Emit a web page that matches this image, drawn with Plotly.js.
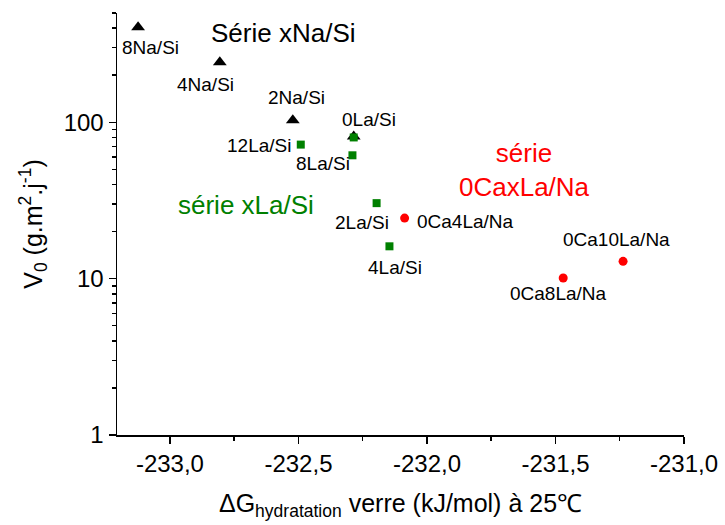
<!DOCTYPE html>
<html>
<head>
<meta charset="utf-8">
<script src="https://cdn.plot.ly/plotly-3.0.1.min.js"></script>
<style>html,body{margin:0;padding:0;background:#fff;}#chart{width:725px;height:525px;}</style>
</head>
<body>
<div id="chart"></div>
<script>
// ---- data ----
var naLabels = ["8Na/Si", "4Na/Si", "2Na/Si", "0La/Si"];
var naX = [-233.124, -232.806, -232.522, -232.285];
var naY = [405, 242, 103, 81];

var laLabels = ["0La/Si", "12La/Si", "8La/Si", "2La/Si", "4La/Si"];
var laX = [-232.285, -232.491, -232.29, -232.196, -232.146];
var laY = [80, 72, 61.5, 30.4, 16.1];

var caLabels = ["0Ca4La/Na", "0Ca10La/Na", "0Ca8La/Na"];
var caX = [-232.087, -231.237, -231.470];
var caY = [24.4, 12.9, 10.1];

var xTickVals = [-233.0, -232.5, -232.0, -231.5, -231.0];
var xTickText = ["-233,0", "-232,5", "-232,0", "-231,5", "-231,0"];
var yTickVals = [1, 10, 100];
var yTickText = ["1", "10", "100"];
var yMinorVals = [2,3,4,5,6,7,8,9,20,30,40,50,60,70,80,90,200,300,400,500];

// label offsets in pixels (style only)
var naShift = [[12,-20],[-14,-22],[4,23],null];
var laShift = [[15,18],[-42,-1],[-29,-8],[-15,-19],[6,-21]];
var caShift = [[61,-3],[-7,22],[-5,-16]];

var FONT = "Liberation Sans, Arial, Helvetica, sans-serif";

var traces = [
  {x: naX, y: naY, mode: "markers", type: "scatter", name: "Série xNa/Si",
   marker: {symbol: "triangle-up", size: 12, color: "#000000"}},
  {x: laX, y: laY, mode: "markers", type: "scatter", name: "série xLa/Si",
   marker: {symbol: "square", size: 8, color: "#008000"}},
  {x: caX, y: caY, mode: "markers", type: "scatter", name: "série 0CaxLa/Na",
   marker: {symbol: "circle", size: 9, color: "#ff0000"}}
];

var annotations = [];
function addLabels(labels, xs, ys, shifts) {
  for (var i = 0; i < labels.length; i++) {
    if (!shifts[i]) continue;
    annotations.push({
      x: xs[i], y: Math.log10(ys[i]), xref: "x", yref: "y",
      xanchor: "center", yanchor: "middle",
      text: labels[i], showarrow: false,
      xshift: shifts[i][0], yshift: shifts[i][1],
      font: {family: FONT, size: 19, color: "#000000"}
    });
  }
}
addLabels(naLabels, naX, naY, naShift);
addLabels(laLabels, laX, laY, laShift);
addLabels(caLabels, caX, caY, caShift);

annotations.push({xref: "paper", yref: "paper", x: 0.293, y: 0.953, xanchor: "center", yanchor: "middle",
  text: "Série xNa/Si", showarrow: false, font: {family: FONT, size: 26, color: "#000000"}});
annotations.push({xref: "paper", yref: "paper", x: 0.2275, y: 0.545, xanchor: "center", yanchor: "middle",
  text: "série xLa/Si", showarrow: false, font: {family: FONT, size: 26, color: "#008000"}});
annotations.push({xref: "paper", yref: "paper", x: 0.718, y: 0.628, xanchor: "center", yanchor: "middle",
  text: "série<br>0CaxLa/Na", showarrow: false, font: {family: FONT, size: 26, color: "#ff0000"}});

var layout = {
  width: 725, height: 525,
  margin: {l: 117, r: 41, t: 13, b: 90},
  paper_bgcolor: "#ffffff", plot_bgcolor: "#ffffff",
  showlegend: false,
  font: {family: FONT, color: "#000000"},
  xaxis: {
    range: [-233.206, -231.0],
    showgrid: false, zeroline: false,
    showline: true, linecolor: "#000000", linewidth: 1.5,
    ticks: "outside", ticklen: 7, tickwidth: 1.5, tickcolor: "#000000",
    tickmode: "array", tickvals: xTickVals, ticktext: xTickText,
    tickfont: {family: FONT, size: 24, color: "#000000"},
    minor: {ticks: "outside", ticklen: 4, tickwidth: 1.5, tickcolor: "#000000", dtick: 0.25, tick0: -233, showgrid: false},
    title: {text: "ΔG<sub>hydratation</sub> verre (kJ/mol) à 25℃", font: {family: FONT, size: 25, color: "#000000"}, standoff: 18},
    automargin: false
  },
  yaxis: {
    type: "log",
    range: [0, Math.log10(500)],
    showgrid: false, zeroline: false,
    showline: true, linecolor: "#000000", linewidth: 1.5,
    ticks: "outside", ticklen: 7, tickwidth: 1.5, tickcolor: "#000000",
    tickmode: "array", tickvals: yTickVals, ticktext: yTickText,
    tickfont: {family: FONT, size: 24, color: "#000000"},
    minor: {ticks: "outside", ticklen: 4, tickwidth: 1.5, tickcolor: "#000000", tickmode: "array", tickvals: yMinorVals, showgrid: false},
    title: {text: "V<sub>0</sub> (g.m<sup>2</sup>.j<sup>-1</sup>)", font: {family: FONT, size: 25, color: "#000000"}, standoff: 14},
    automargin: false
  },
  annotations: annotations
};

Plotly.newPlot("chart", traces, layout, {displayModeBar: false, staticPlot: true});
</script>
</body>
</html>
